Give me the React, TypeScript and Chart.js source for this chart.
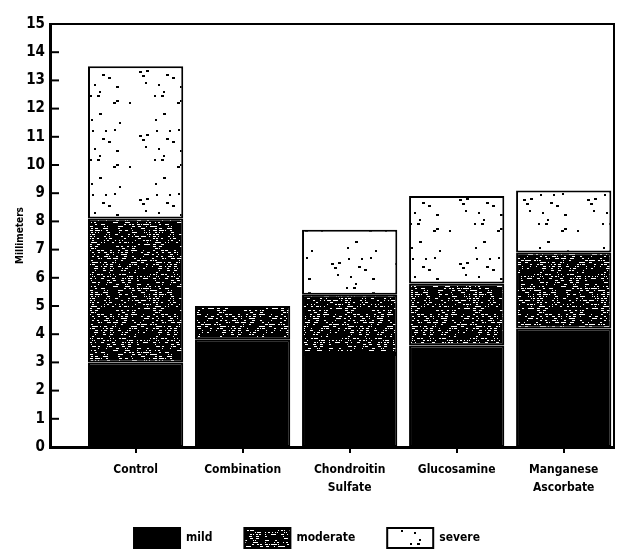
import React, { useEffect, useRef } from "react";
import { Chart, registerables } from "chart.js";

Chart.register(...registerables);

// ---- data ----
const categories: string[][] = [
  ["Control"],
  ["Combination"],
  ["Chondroitin", "Sulfate"],
  ["Glucosamine"],
  ["Manganese", "Ascorbate"],
];
const mild = [3.0, 3.8, 3.3, 3.6, 4.2];
const moderate = [5.1, 1.2, 2.1, 2.2, 2.7];
const severe = [5.4, 0, 2.3, 3.1, 2.2];
const seriesNames = ["mild", "moderate", "severe"];
const yAxisTitle = "Millimeters";

const FONT = "'DejaVu Sans Condensed', 'Liberation Sans Narrow', 'Liberation Sans', sans-serif";

// deterministic texture hash (not data)
function hash(n: number): number {
  let x = (n * 2654435761) >>> 0;
  x ^= x >>> 13;
  x = Math.imul(x, 1274126177) >>> 0;
  x ^= x >>> 16;
  return (x >>> 0) / 4294967295;
}

function makeDensePattern(ctx: CanvasRenderingContext2D): CanvasPattern | string {
  const c = document.createElement("canvas");
  c.width = 64;
  c.height = 64;
  const g = c.getContext("2d");
  if (!g) return "#444";
  g.fillStyle = "#000";
  g.fillRect(0, 0, 64, 64);
  g.fillStyle = "#fff";
  let k = 1;
  for (let y = 0; y < 64; y += 2) {
    for (let x = 0; x < 64; x += 3) {
      const h = hash(k++);
      if (h < 0.45) {
        const w = 1 + Math.floor(hash(k++) * 3);
        g.fillRect(x + Math.floor(hash(k++) * 2), y, w, 1);
      }
    }
  }
  return ctx.createPattern(c, "repeat") || "#444";
}

function makeSparsePattern(ctx: CanvasRenderingContext2D): CanvasPattern | string {
  const c = document.createElement("canvas");
  c.width = 64;
  c.height = 64;
  const g = c.getContext("2d");
  if (!g) return "#fff";
  g.fillStyle = "#fff";
  g.fillRect(0, 0, 64, 64);
  g.fillStyle = "#000";
  for (let i = 0; i < 20; i++) {
    const x = Math.floor(hash(1000 + i * 3) * 62);
    const y = Math.floor(hash(1001 + i * 3) * 62);
    const w = hash(1002 + i * 3) < 0.5 ? 2 : 3;
    g.fillRect(x, y, w, 2);
  }
  return ctx.createPattern(c, "repeat") || "#fff";
}

const framePlugin = {
  id: "frame",
  afterDatasetsDraw(chart: any) {
    const { ctx, chartArea: a, scales } = chart;
    const y = scales.y;
    ctx.save();
    ctx.strokeStyle = "#000";
    ctx.lineWidth = 2;
    ctx.beginPath();
    ctx.moveTo(a.left, a.top);
    ctx.lineTo(a.right, a.top);
    ctx.lineTo(a.right, a.bottom);
    ctx.stroke();
    ctx.lineWidth = 2;
    for (const t of y.ticks) {
      const py = y.getPixelForValue(t.value);
      ctx.beginPath();
      ctx.moveTo(a.left, py);
      ctx.lineTo(a.left + 9, py);
      ctx.stroke();
    }
    ctx.restore();
  },
};

export default function App() {
  const ref = useRef<HTMLCanvasElement | null>(null);

  useEffect(() => {
    document.body.style.margin = "0";
    document.body.style.background = "#fff";
    const canvas = ref.current;
    if (!canvas) return;
    const ctx = canvas.getContext("2d");
    if (!ctx) return;
    const dense = makeDensePattern(ctx);
    const sparse = makeSparsePattern(ctx);
    const toPts = (arr: number[]) => arr.map((v, i) => ({ x: i + 1, y: v }));

    const chart = new Chart(ctx, {
      type: "bar",
      data: {
        datasets: [
          {
            label: seriesNames[0],
            data: toPts(mild),
            backgroundColor: "#000",
            borderColor: "#000",
            borderWidth: 2,
            borderSkipped: false,
          },
          {
            label: seriesNames[1],
            data: toPts(moderate),
            backgroundColor: dense as any,
            borderColor: "#000",
            borderWidth: 2,
            borderSkipped: false,
          },
          {
            label: seriesNames[2],
            data: toPts(severe),
            backgroundColor: sparse as any,
            borderColor: "#000",
            borderWidth: 2,
            borderSkipped: false,
          },
        ] as any,
      },
      options: {
        animation: false,
        responsive: true,
        maintainAspectRatio: false,
        layout: { padding: { left: 0, right: 5, top: 24, bottom: -6 } },
        datasets: {
          bar: { barPercentage: 0.89, categoryPercentage: 1 },
        } as any,
        scales: {
          x: {
            type: "linear",
            stacked: true,
            offset: false,
            min: 0.2,
            max: 5.47,
            grid: {
              offset: false,
              drawOnChartArea: false,
              drawTicks: true,
              tickLength: 6,
              color: "#000",
              lineWidth: 2,
            },
            border: { display: true, color: "#000", width: 3 },
            ticks: {
              stepSize: 1,
              includeBounds: false,
              autoSkip: false,
              maxRotation: 0,
              color: "#000",
              padding: 8,
              font: { family: FONT, size: 12, weight: "bold", lineHeight: 1.5 },
              callback: (v: any) =>
                Number.isInteger(v) && categories[v - 1] ? categories[v - 1] : "",
            },
            afterFit: (s: any) => {
              s.height = 49;
            },
          } as any,
          y: {
            stacked: true,
            min: 0,
            max: 15,
            grid: { display: false, tickLength: 0 },
            border: { display: true, color: "#000", width: 3 },
            ticks: {
              stepSize: 1,
              color: "#000",
              padding: 5,
              font: { family: FONT, size: 15, weight: "bold" },
            },
            title: {
              display: true,
              text: yAxisTitle,
              color: "#000",
              padding: { top: 14, bottom: 0 },
              font: { family: FONT, size: 10, weight: "bold" },
            },
            afterFit: (s: any) => {
              s.width = 50;
            },
          } as any,
        },
        plugins: {
          legend: {
            display: true,
            position: "bottom",
            labels: {
              boxWidth: 46,
              boxHeight: 20,
              padding: 32,
              color: "#000",
              font: { family: FONT, size: 12, weight: "bold" },
            },
          },
          tooltip: { enabled: false },
        },
      },
      plugins: [framePlugin],
    });
    return () => chart.destroy();
  }, []);

  return (
    <div style={{ width: 619, height: 552, position: "relative", background: "#fff" }}>
      <canvas ref={ref} />
    </div>
  );
}
